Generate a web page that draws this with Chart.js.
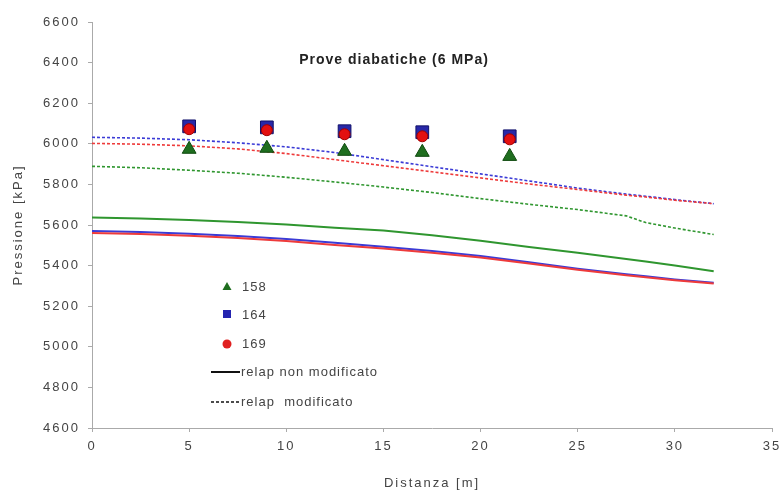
<!DOCTYPE html>
<html>
<head>
<meta charset="utf-8">
<script src="https://cdn.jsdelivr.net/npm/chart.js@4.4.1/dist/chart.umd.min.js"></script>
<style>
  html, body { margin: 0; padding: 0; background: #fff; }
  #wrap { width: 783px; height: 497px; position: relative; }
</style>
</head>
<body>
<div id="wrap"><canvas id="chart"></canvas></div>
<script>
// Distances (m) of the relap nodes and the measurement stations
const distLine = [0, 2.5, 5, 7.5, 10, 12.5, 15, 17.5, 20, 22.5, 25, 27.5, 28.5, 30, 32];
const distPoints = [5, 9, 13, 17, 21.5];

// Experimental pressures (kPa)
const test158 = [5973, 5978, 5963, 5958, 5938];
const test164 = [6086, 6081, 6062, 6057, 6037];
const test169 = [6072, 6067, 6047, 6037, 6022];

// relap non modificato (solid)
const relap158 = [5637, 5632, 5625, 5615, 5603, 5587, 5573, 5550, 5522, 5492, 5463, 5432, 5420, 5400, 5372];
const relap164 = [5570, 5565, 5557, 5546, 5531, 5512, 5493, 5472, 5447, 5416, 5385, 5357, 5347, 5332, 5315];
const relap169 = [5560, 5556, 5547, 5536, 5521, 5502, 5484, 5463, 5440, 5410, 5380, 5352, 5343, 5328, 5312];

// relap modificato (dashed)
const relapMod158 = [5889, 5882, 5870, 5855, 5835, 5812, 5787, 5760, 5730, 5702, 5676, 5645, 5612, 5585, 5553];
const relapMod164 = [6032, 6028, 6020, 6005, 5985, 5957, 5922, 5887, 5852, 5817, 5782, 5752, 5742, 5725, 5705];
const relapMod169 = [6002, 5998, 5990, 5975, 5952, 5922, 5892, 5862, 5832, 5802, 5775, 5747, 5738, 5722, 5705];

const yTicks = [4600, 4800, 5000, 5200, 5400, 5600, 5800, 6000, 6200, 6400, 6600];

const GREEN = '#2f962f', BLUE = '#3b3bd6', RED = '#ee3b3b';

function pts(xs, ys) {
    return xs.map((x, i) => ({ x: x, y: ys[i] }));
}

function lineSet(label, xs, ys, color, dashed, order) {
    return {
        type: 'line',
        label: label,
        data: pts(xs, ys),
        borderColor: color,
        borderWidth: dashed ? 1.6 : 2,
        borderDash: dashed ? [3, 2] : [],
        pointRadius: 0,
        fill: false,
        tension: 0,
        order: order
    };
}

function markerSet(label, ys, style, fill, edge, radius, order) {
    return {
        type: 'scatter',
        label: label,
        data: pts(distPoints, ys),
        pointStyle: style,
        pointRadius: radius,
        backgroundColor: fill,
        borderColor: edge,
        borderWidth: 1,
        order: order
    };
}

// spaced-out text like the original (scaled up) figure
const spacing = {
    id: 'spacing',
    beforeLayout(chart) { chart.ctx.letterSpacing = '2px'; },
    beforeDraw(chart) { chart.ctx.letterSpacing = '2px'; }
};

// title and legend sit inside the plot area
const overlay = {
    id: 'overlay',
    afterDraw(chart) {
        const ctx = chart.ctx;
        ctx.save();
        ctx.letterSpacing = '1px';
        ctx.fillStyle = '#222';
        ctx.font = 'bold 14px "Liberation Sans", Arial, sans-serif';
        ctx.textAlign = 'center';
        ctx.textBaseline = 'middle';
        ctx.fillText('Prove diabatiche (6 MPa)', 394, 60);

        ctx.font = '13px "Liberation Sans", Arial, sans-serif';
        ctx.textAlign = 'left';

        // triangle 158
        ctx.fillStyle = '#1f6e1f';
        ctx.beginPath();
        ctx.moveTo(227, 282); ctx.lineTo(231.5, 290); ctx.lineTo(222.5, 290); ctx.closePath();
        ctx.fill();
        // square 164
        ctx.fillStyle = '#2424b0';
        ctx.fillRect(223, 310, 8, 8);
        // circle 169
        ctx.fillStyle = '#e02020';
        ctx.beginPath();
        ctx.arc(227, 344, 4.5, 0, Math.PI * 2);
        ctx.fill();

        ctx.fillStyle = '#444';
        ctx.fillText('158', 242, 287);
        ctx.fillText('164', 242, 315);
        ctx.fillText('169', 242, 344);
        ctx.fillText('relap non modificato', 241, 372);
        ctx.fillText('relap  modificato', 241, 402);

        ctx.strokeStyle = '#111';
        ctx.lineWidth = 2;
        ctx.beginPath(); ctx.moveTo(211, 372); ctx.lineTo(240, 372); ctx.stroke();
        ctx.lineWidth = 1.5;
        ctx.setLineDash([3, 2]);
        ctx.beginPath(); ctx.moveTo(211, 402); ctx.lineTo(240, 402); ctx.stroke();
        ctx.restore();
    }
};

new Chart(document.getElementById('chart'), {
    data: {
        datasets: [
            markerSet('169', test169, 'circle', '#e31010', '#a00000', 5.5, 1),
            markerSet('164', test164, 'rect', '#2828a8', '#12126a', 9, 2),
            markerSet('158', test158, 'triangle', '#1f6e1f', '#0f4a0f', 8, 3),
            lineSet('relap 169', distLine, relap169, RED, false, 4),
            lineSet('relap 164', distLine, relap164, BLUE, false, 5),
            lineSet('relap 158', distLine, relap158, GREEN, false, 6),
            lineSet('relap mod 169', distLine, relapMod169, RED, true, 7),
            lineSet('relap mod 164', distLine, relapMod164, BLUE, true, 8),
            lineSet('relap mod 158', distLine, relapMod158, GREEN, true, 9)
        ]
    },
    options: {
        responsive: true,
        maintainAspectRatio: false,
        animation: false,
        layout: { padding: { top: 22, right: 11, left: 0, bottom: 0 } },
        plugins: {
            legend: { display: false },
            tooltip: { enabled: false }
        },
        scales: {
            x: {
                type: 'linear',
                min: 0,
                max: 35,
                afterFit(scale) {
                    scale.height = 69;
                    scale.paddingRight = 0;
                    scale.paddingLeft = 0;
                },
                ticks: {
                    stepSize: 5,
                    color: '#444',
                    padding: 7,
                    maxRotation: 0,
                    font: { family: '"Liberation Sans", Arial, sans-serif', size: 13 }
                },
                grid: { drawOnChartArea: false, drawTicks: true, tickLength: 4, color: '#aaa' },
                border: { color: '#aaa', width: 1 },
                title: {
                    display: true,
                    text: 'Distanza [m]',
                    color: '#444',
                    padding: { top: 6, bottom: 6 },
                    font: { family: '"Liberation Sans", Arial, sans-serif', size: 13 }
                }
            },
            y: {
                type: 'linear',
                min: 4600,
                max: 6600,
                afterFit(scale) { scale.width = 92; },
                afterBuildTicks(scale) { scale.ticks = yTicks.map(v => ({ value: v })); },
                ticks: {
                    color: '#444',
                    padding: 8,
                    callback: v => String(v),
                    font: { family: '"Liberation Sans", Arial, sans-serif', size: 13 }
                },
                grid: { drawOnChartArea: false, drawTicks: true, tickLength: 4, color: '#aaa' },
                border: { color: '#aaa', width: 1 },
                title: {
                    display: true,
                    text: 'Pressione [kPa]',
                    color: '#444',
                    padding: { top: 11, bottom: 4 },
                    font: { family: '"Liberation Sans", Arial, sans-serif', size: 13 }
                }
            }
        }
    },
    plugins: [spacing, overlay]
});
</script>
</body>
</html>
